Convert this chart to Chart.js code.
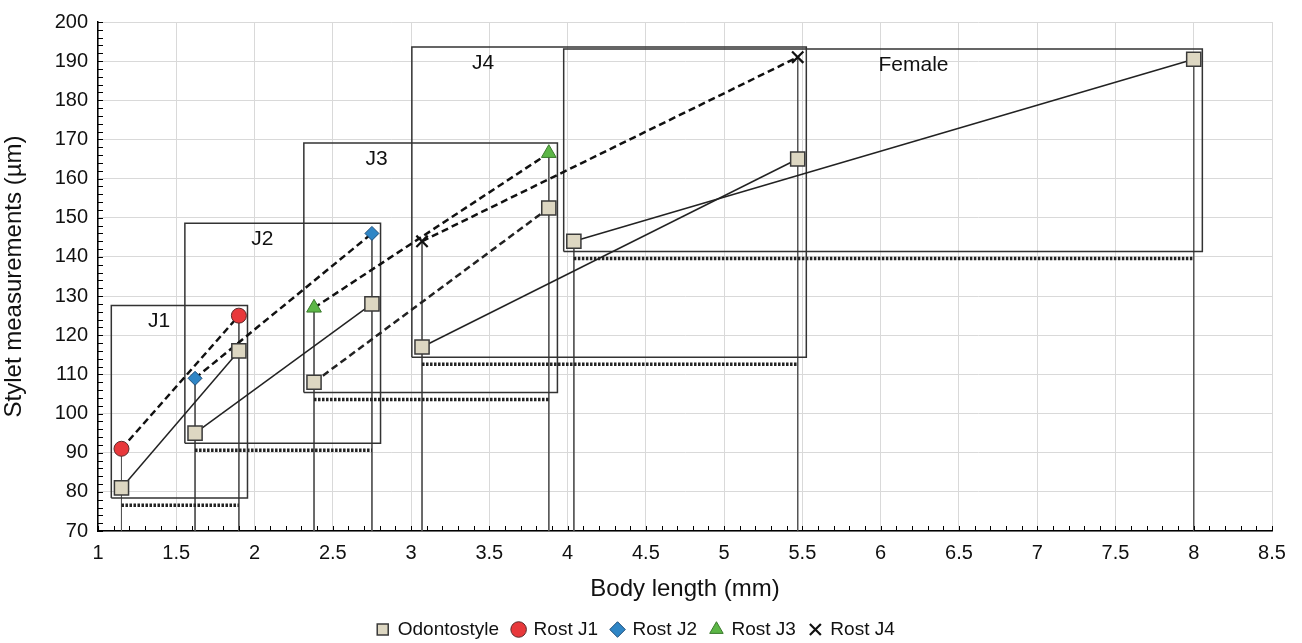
<!DOCTYPE html>
<html>
<head>
<meta charset="utf-8">
<script src="https://cdn.jsdelivr.net/npm/chart.js@4.4.1/dist/chart.umd.min.js"></script>
<style>
  html, body { margin: 0; padding: 0; background: #fff; }
  #wrap { width: 1302px; height: 643px; }
</style>
</head>
<body>
<div id="wrap"><canvas id="canvas" width="1302" height="643"></canvas></div>
<script>
// stages and values
let stages = ['J1', 'J2', 'J3', 'J4', 'Female'];
let lenMin = [1.15, 1.62, 2.38, 3.07, 4.04];   // body length, mm
let lenMax = [1.90, 2.75, 3.88, 5.47, 8.00];
let odoMin = [81, 95, 108, 117, 144];           // odontostyle, µm
let odoMax = [116, 128, 152.5, 165, 190.5];
let rostMin = [91, 109, 127, 144];              // rost J1..J4
let rostMax = [125, 146, 166.5, 191];
let seriesNames = ['Odontostyle', 'Rost J1', 'Rost J2', 'Rost J3', 'Rost J4'];
let labelX = [1.39, 2.05, 2.78, 3.46, 6.21];

let font = "'Liberation Sans', Arial, sans-serif";
let gap = { x: NaN, y: NaN };

// odontostyle: one segment per stage
let odoPts = [];
stages.forEach((s, i) => {
  odoPts.push({ x: lenMin[i], y: odoMin[i] }, { x: lenMax[i], y: odoMax[i] }, gap);
});

// boxes around each stage, range bars under them, drop lines to the axis
let boxTop = [], boxPts = [], rangePts = [], dropPts = [];
stages.forEach((s, i) => {
  let x0 = lenMin[i] - 0.065, x1 = lenMax[i] + 0.055;
  let y0 = odoMin[i] - 2.6;
  let y1 = Math.max(odoMax[i], rostMax[i] || 0) + 2.6;
  boxTop.push(y1);
  boxPts.push({ x: x0, y: y0 }, { x: x1, y: y0 }, { x: x1, y: y1 }, { x: x0, y: y1 }, { x: x0, y: y0 }, gap);
  rangePts.push({ x: lenMin[i], y: odoMin[i] - 4.4 }, { x: lenMax[i], y: odoMin[i] - 4.4 }, gap);
  let t0 = i < rostMin.length ? rostMin[i] : odoMin[i];
  let t1 = i < rostMax.length ? rostMax[i] : odoMax[i];
  dropPts.push({ x: lenMin[i], y: t0 }, { x: lenMin[i], y: 70 }, gap);
  dropPts.push({ x: lenMax[i], y: t1 }, { x: lenMax[i], y: 70 }, gap);
});

function rost(i, style, fill, edge, r) {
  return {
    label: seriesNames[i + 1],
    data: [{ x: lenMin[i], y: rostMin[i] }, { x: lenMax[i], y: rostMax[i] }],
    showLine: true,
    borderColor: '#111',
    borderWidth: 2.5,
    borderDash: [7, 4],
    pointStyle: style,
    pointRadius: r,
    pointBackgroundColor: fill,
    pointBorderColor: edge,
    pointBorderWidth: 1
  };
}

let datasets = [
  {
    label: seriesNames[0],
    data: odoPts,
    showLine: true,
    spanGaps: false,
    borderColor: '#222',
    borderWidth: 1.5,
    segment: {
      borderDash: ctx => ctx.p0.parsed.x === lenMin[2] ? [7, 4] : undefined,
      borderWidth: ctx => ctx.p0.parsed.x === lenMin[2] ? 2.5 : undefined
    },
    pointStyle: 'rect',
    pointRadius: 10,
    pointBackgroundColor: '#DDD7C2',
    pointBorderColor: '#3a3a3a',
    pointBorderWidth: 1.5
  },
  rost(0, 'circle', '#E8383B', '#5a2a2a', 7.5),
  rost(1, 'rectRot', '#2F86C6', '#1e4d78', 7),
  rost(2, 'triangle', '#5CB646', '#3a7a2c', 8.5),
  rost(3, 'crossRot', '#111', '#111', 8),
  { label: 'boxes', data: boxPts, showLine: true, spanGaps: false, borderColor: '#333', borderWidth: 1.5, pointRadius: 0 },
  { label: 'ranges', data: rangePts, showLine: true, spanGaps: false, borderColor: '#222', borderWidth: 3.5, borderDash: [2.5, 1.5], pointRadius: 0 },
  { label: 'drops', data: dropPts, showLine: true, spanGaps: false, borderColor: '#555', borderWidth: 1, pointRadius: 0 }
];
datasets[4].pointBorderWidth = 2.2;

// inside minor ticks and the stage names
let extras = {
  id: 'extras',
  afterDraw(chart) {
    let ctx = chart.ctx, xs = chart.scales.x, ys = chart.scales.y, a = chart.chartArea;
    ctx.save();
    ctx.strokeStyle = '#000';
    ctx.lineWidth = 1;
    ctx.beginPath();
    for (let v = 10; v <= 85; v++) {
      let px = Math.round(xs.getPixelForValue(v / 10)) + 0.5;
      ctx.moveTo(px, a.bottom); ctx.lineTo(px, a.bottom - 5);
    }
    for (let v = 70; v <= 200; v += 2) {
      let py = Math.round(ys.getPixelForValue(v)) + 0.5;
      ctx.moveTo(a.left, py); ctx.lineTo(a.left + 5, py);
    }
    ctx.stroke();
    ctx.fillStyle = '#111';
    ctx.font = '21px ' + font;
    ctx.textAlign = 'center';
    ctx.textBaseline = 'middle';
    stages.forEach((s, i) => {
      ctx.fillText(s, xs.getPixelForValue(labelX[i]), ys.getPixelForValue(boxTop[i]) + 16);
    });
    ctx.restore();
  }
};

let options = {
  type: 'scatter',
  data: { datasets: datasets },
  options: {
    responsive: false,
    animation: false,
    layout: { padding: { top: 20, right: 30, left: 0, bottom: -6 } },
    scales: {
      x: {
        type: 'linear',
        min: 1, max: 8.5,
        afterFit: s => { s.height = 75; },
        ticks: { stepSize: 0.5, color: '#111', font: { size: 20, family: font }, padding: 10, callback: v => String(v) },
        grid: { color: '#d9d9d9', drawTicks: false },
        border: { color: '#000', width: 1.5 },
        title: { display: true, text: 'Body length (mm)', color: '#111', font: { size: 24, family: font }, padding: { top: 4, bottom: 2 } }
      },
      y: {
        min: 70, max: 200,
        afterFit: s => { s.width = 98; },
        ticks: { stepSize: 10, color: '#111', font: { size: 20, family: font }, padding: 10 },
        grid: { color: '#d9d9d9', drawTicks: false },
        border: { color: '#000', width: 1.5 },
        title: { display: true, text: 'Stylet measurements (µm)', color: '#111', font: { size: 24, family: font }, padding: 0 }
      }
    },
    plugins: {
      legend: {
        position: 'bottom',
        labels: {
          usePointStyle: true,
          boxWidth: 11,
          boxHeight: 11,
          padding: 14,
          color: '#111',
          font: { size: 19, family: font },
          generateLabels(chart) {
            let items = Chart.defaults.plugins.legend.labels.generateLabels(chart);
            return items.filter(it => it.datasetIndex < seriesNames.length).map(it => {
              let ds = chart.data.datasets[it.datasetIndex];
              return Object.assign({}, it, {
                lineDash: [],
                lineWidth: ds.pointBorderWidth,
                strokeStyle: ds.pointBorderColor,
                fillStyle: ds.pointBackgroundColor
              });
            });
          }
        }
      },
      tooltip: { enabled: false }
    }
  },
  plugins: [extras]
};

let chart = new Chart(document.getElementById('canvas'), options);
</script>
</body>
</html>
